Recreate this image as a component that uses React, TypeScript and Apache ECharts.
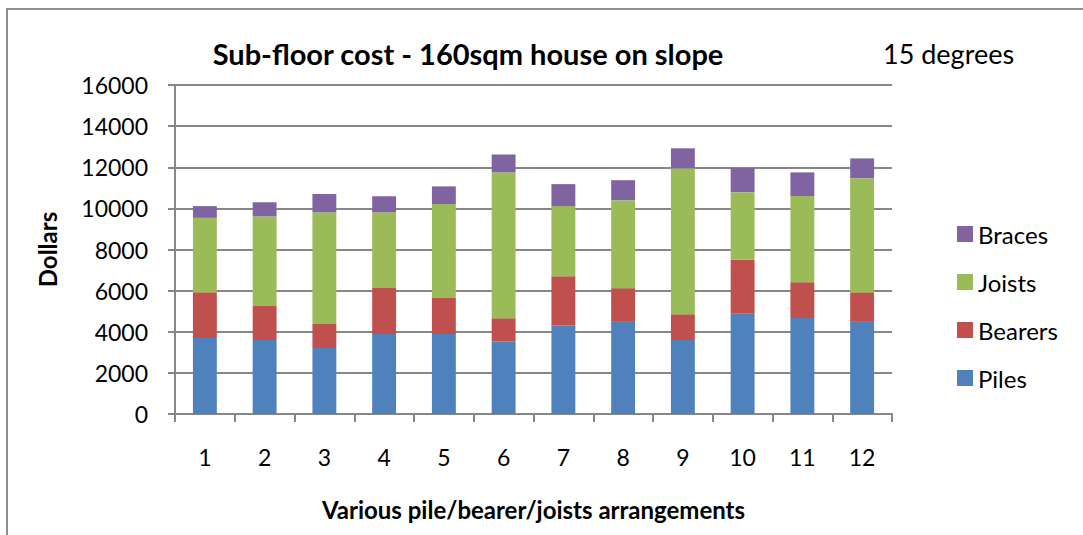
import React, { useEffect, useRef } from "react";
import * as echarts from "echarts";

const categories = ["1", "2", "3", "4", "5", "6", "7", "8", "9", "10", "11", "12"];
const piles = [3700, 3600, 3210, 3890, 3890, 3520, 4300, 4480, 3600, 4870, 4670, 4480];
const bearers = [2220, 1655, 1170, 2240, 1750, 1135, 2400, 1640, 1250, 2630, 1740, 1440];
const joists = [3620, 4360, 5430, 3680, 4570, 7100, 3410, 4280, 7100, 3290, 4190, 5550];
const braces = [570, 680, 890, 780, 860, 860, 1070, 970, 970, 1170, 1150, 960];
const yTicks = [0, 2000, 4000, 6000, 8000, 10000, 12000, 14000, 16000];

const FONT = "Lato, 'Noto Sans', sans-serif";
const GRID = "#878787";

export default function App() {
  const ref = useRef<HTMLDivElement>(null);
  useEffect(() => {
    if (!ref.current) return;
    const chart = echarts.init(ref.current, undefined, { renderer: "svg" });
    const mk = (name: string, data: number[], color: string) => ({
      name,
      type: "bar",
      stack: "total",
      data,
      barWidth: "40%",
      itemStyle: { color },
    });
    chart.setOption({
      animation: false,
      backgroundColor: "#ffffff",
      textStyle: { fontFamily: FONT },
      grid: { left: 175, right: 1083 - 892, top: 85, bottom: 535 - 414, containLabel: false },
      graphic: [
        {
          type: "rect",
          shape: { x: 7, y: 9, width: 1200, height: 700 },
          style: { fill: "none", stroke: "#8f8f8f", lineWidth: 2 },
          silent: true,
        },
        {
          type: "text",
          x: 468,
          y: 53,
          style: {
            text: "Sub-floor cost - 160sqm house on slope",
            font: `bold 29px ${FONT}`,
            fill: "#000",
            textAlign: "center",
            textVerticalAlign: "middle",
          },
        },
        {
          type: "text",
          x: 883,
          y: 53,
          style: {
            text: "15 degrees",
            font: `27px ${FONT}`,
            fill: "#000",
            textAlign: "left",
            textVerticalAlign: "middle",
          },
        },
      ],
      legend: {
        orient: "vertical",
        left: 952,
        top: 217,
        itemWidth: 16,
        itemHeight: 16,
        itemGap: 24,
        icon: "rect",
        data: ["Braces", "Joists", "Bearers", "Piles"],
        textStyle: { fontFamily: FONT, fontSize: 24, color: "#000", padding: [0, 0, 0, 0] },
      },
      xAxis: {
        type: "category",
        data: categories,
        name: "Various pile/bearer/joists arrangements",
        nameLocation: "middle",
        nameGap: 83,
        nameTextStyle: { fontFamily: FONT, fontSize: 24, fontWeight: "bold", color: "#000" },
        axisLine: { lineStyle: { color: GRID, width: 2 } },
        axisTick: { show: true, length: 8, lineStyle: { color: GRID, width: 2 } },
        axisLabel: { fontFamily: FONT, fontSize: 23, color: "#000", margin: 31 },
      },
      yAxis: {
        type: "value",
        min: 0,
        max: 16000,
        interval: 2000,
        name: "Dollars",
        nameLocation: "middle",
        nameGap: 116,
        nameRotate: 90,
        nameTextStyle: { fontFamily: FONT, fontSize: 24, fontWeight: "bold", color: "#000" },
        axisLine: { show: true, lineStyle: { color: GRID, width: 2 } },
        axisTick: { show: true, length: 7, lineStyle: { color: GRID, width: 2 } },
        axisLabel: {
          fontFamily: FONT,
          fontSize: 23,
          color: "#000",
          margin: 27,
          formatter: (v: number) => (yTicks.includes(v) ? String(v) : ""),
        },
        splitLine: { show: true, lineStyle: { color: GRID, width: 2 } },
      },
      series: [
        mk("Piles", piles, "#4F81BD"),
        mk("Bearers", bearers, "#C0504D"),
        mk("Joists", joists, "#9BBB59"),
        mk("Braces", braces, "#8064A2"),
      ],
    });
    return () => chart.dispose();
  }, []);
  return (
    <div
      ref={ref}
      style={{ position: "absolute", left: 0, top: 0, width: 1083, height: 535 }}
    />
  );
}
